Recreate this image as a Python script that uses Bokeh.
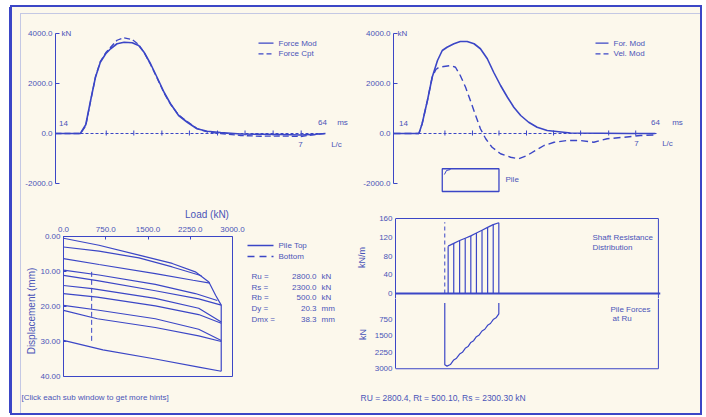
from bokeh.plotting import figure
from bokeh.layouts import column, row
from bokeh.models import Range1d, FixedTicker, Label, Spacer, Span
from bokeh.embed import file_html
from bokeh.resources import INLINE

# ---------------- data ----------------
# Top-left panel: force measured vs computed (time ms, force kN)
tl_time_ms = [14, 18.6, 19.6, 20.5, 21.4, 22.3, 23.3, 24.2, 25.4, 26.7, 28.2, 29.4, 30.4, 31.6,
              32.8, 34.1, 35.3, 36.8, 38.4, 40.2, 42.1, 44.6, 48.3, 52.0, 55.7, 59.4, 62.2, 64]
force_mod = [0, 0, 350, 1320, 2250, 2850, 3190, 3390, 3590, 3650, 3630, 3520, 3250, 2790,
             2250, 1650, 1190, 720, 450, 190, 90, 40, -20, -30, -40, -60, -30, 0]
force_cpt = [0, 0, 300, 1300, 2260, 2880, 3230, 3450, 3730, 3830, 3760, 3560, 3250, 2760,
             2220, 1620, 1170, 740, 480, 200, 60, 0, -80, -110, -100, -120, -40, 0]

# Top-right panel: modelled force and velocity
tr_force_time_ms = [14, 18.8, 19.4, 20.4, 21.3, 22.3, 23.2, 24.1, 25.4, 26.6, 27.9, 29.2, 30.4,
                    31.7, 32.9, 34.2, 35.5, 36.7, 38.0, 39.5, 41.1, 43.0, 47.4, 53.1, 58.7, 63.4]
for_mod = [0, 0, 390, 1320, 2250, 2920, 3320, 3450, 3590, 3680, 3680, 3590, 3390,
           2990, 2450, 1920, 1450, 1050, 720, 450, 250, 120, 20, 10, 0, 0]
tr_vel_time_ms = [14, 18.8, 19.4, 20.4, 21.3, 22.0, 22.6, 23.5, 24.8, 25.7, 26.6, 27.6, 28.5,
                  29.5, 30.4, 31.4, 32.6, 34.2, 36.1, 37.6, 39.2, 40.8, 42.4, 44.3, 46.8,
                  49.3, 51.8, 54.3, 57.5, 60.6, 63.4]
vel_mod = [0, 0, 390, 1320, 2250, 2560, 2650, 2680, 2720, 2650, 2320, 1850, 1320,
           720, 190, -210, -550, -810, -950, -1010, -880, -680, -480, -350, -280,
           -280, -350, -210, -150, -80, -60]

time_start_ms = 14
time_end_ms = 64
tl_lc_ticks_ms = [23.4, 28.5, 33.7, 38.8, 44.0, 49.1, 54.3, 59.5]
tr_lc_ticks_ms = [23.7, 28.9, 33.9, 39.1, 44.2, 49.3, 54.6, 59.7]
force_ticks = [-2000, 0, 2000, 4000]
force_tick_labels = ["-2000.0", "0.0", "2000.0", "4000.0"]

# pile sketch in the top-right panel (ms / kN frame of that panel)
pile_box_ms = [23.2, 33.9]
pile_box_kn = [-2320, -1410]
pile_mark_ms = [23.6, 24.0, 24.75]
pile_mark_kn = [-1640, -1480, -1440]

# Bottom-left panel: simulated static load test (load kN, displacement mm)
load_ticks = [0, 750, 1500, 2250, 3000]
load_tick_labels = ["0.0", "750.0", "1500.0", "2250.0", "3000.0"]
disp_ticks = [0, 10, 20, 30, 40]
disp_tick_labels = ["0.00", "10.00", "20.00", "30.00", "40.00"]
pile_top_loads = [
    [0, 630, 1340, 1930, 2340, 2580, 2700, 2800, 2800],
    [0, 630, 1340, 1930, 2450],
    [0, 630, 1630, 2300, 2600],
    [0, 630, 1630, 2340, 2730],
    [0, 600, 1630, 2400, 2800],
    [0, 510, 1630, 2400, 2800],
    [0, 600, 1630, 2400, 2800],
    [0, 600, 1630, 2400, 2800],
    [0, 600, 1630, 2400, 2800],
    [0, 700, 1630, 2400, 2800],
]
pile_top_disps = [
    [0.5, 2.5, 5.3, 7.7, 10.1, 13.0, 16.8, 19.6, 38.5],
    [3.0, 4.2, 6.1, 8.7, 11.2],
    [6.3, 8.0, 10.6, 12.5, 13.3],
    [9.6, 11.0, 13.7, 16.3, 18.3],
    [11.1, 12.6, 15.5, 17.8, 19.6],
    [14.0, 14.9, 17.7, 20.5, 24.4],
    [16.3, 17.3, 19.8, 22.3, 24.8],
    [19.7, 21.0, 23.5, 26.5, 29.7],
    [21.1, 23.5, 26.0, 28.4, 30.0],
    [29.7, 32.4, 35.0, 37.3, 38.5],
]
bottom_load = [500, 500]
bottom_disp = [10.1, 30.1]
result_names = ["Ru =", "Rs =", "Rb =", "Dy =", "Dmx ="]
result_values = ["2800.0", "2300.0", "500.0", "20.3", "38.3"]
result_units = ["kN", "kN", "kN", "mm", "mm"]

# Bottom-right panel: shaft resistance distribution and pile forces
node_depth_m = [1.2, 3.2, 5.3, 7.3, 9.3, 11.3, 13.3, 15.3, 17.3, 19.3]
skin_kn_per_m = [101, 107, 113, 118, 123, 129, 135, 141, 147, 151]
pile_top_depth_m = [0, 0]
pile_top_dash_kn_m = [0, 152]
force_depth_m = [0, 0, 0.8, 2.0, 3.2, 4.2, 5.3, 6.3, 7.3, 8.3, 9.3, 10.3, 11.3,
                 12.3, 13.3, 14.3, 15.3, 16.3, 17.3, 18.3, 19.3, 19.3]
pile_force_kn = [0, 2820, 2880, 2810, 2600, 2520, 2330, 2250, 2070, 1990, 1800, 1720,
                 1540, 1460, 1280, 1200, 1020, 940, 760, 680, 500, 0]
skin_ticks = [0, 40, 80, 120, 160]
force_dist_ticks = [750, 1500, 2250, 3000]
depth_axis_m = (-17.6, 76.3)

caption_left = "[Click each sub window to get more hints]"
caption_right = "RU =  2800.4,  Rt =  500.10,  Rs =  2300.30 kN"

# ---------------- style ----------------
BLUE = "#3b46c6"
TXT = "#4a54b8"
BG = "#fcf8ec"
FAINT = "#c4c8e4"
FONT = "Liberation Sans"


def mk(w, h, xr, yr, mbl, mbr, mbt, mbb, **kw):
    p = figure(width=w, height=h, x_range=Range1d(*xr), y_range=Range1d(*yr),
               output_backend="svg", toolbar_location=None,
               min_border_left=mbl, min_border_right=mbr, min_border_top=mbt, min_border_bottom=mbb,
               background_fill_color=BG, border_fill_color=BG,
               background_fill_alpha=0, border_fill_alpha=0, **kw)
    p.grid.visible = False
    p.outline_line_color = None
    return p


def style_axis(ax, ticks, labels=None, bounds=None, tick_in=4):
    ax.ticker = FixedTicker(ticks=ticks)
    if labels is not None:
        ax.major_label_overrides = {t: l for t, l in zip(ticks, labels)}
    ax.axis_line_color = BLUE
    ax.major_tick_line_color = BLUE
    ax.minor_tick_line_color = None
    ax.major_tick_in = tick_in
    ax.major_tick_out = 0
    ax.major_label_standoff = 3
    ax.major_label_text_font = FONT
    ax.major_label_text_font_size = "8px"
    ax.major_label_text_color = TXT
    if bounds is not None:
        ax.bounds = bounds


def axis_title(ax, txt, standoff, size="10px"):
    ax.axis_label = txt
    ax.axis_label_text_font = FONT
    ax.axis_label_text_font_size = size
    ax.axis_label_text_font_style = "normal"
    ax.axis_label_text_color = TXT
    ax.axis_label_standoff = standoff


def mapper(left, right, top, bottom, xr, yr):
    def f(px, py):
        x = xr[0] + (px - left) / (right - left) * (xr[1] - xr[0])
        y = yr[0] + (bottom - py) / (bottom - top) * (yr[1] - yr[0])
        return x, y
    return f


def lab(p, m, px, py, text, size="8px", align="left"):
    x, y = m(px, py)
    p.add_layout(Label(x=x, y=y, text=text, text_font=FONT, text_font_size=size,
                       text_color=TXT, text_align=align, text_baseline="middle"))


def seg_line(p, m, px0, px1, py, dash="solid"):
    x0, y = m(px0, py)
    x1, _ = m(px1, py)
    p.line([x0, x1], [y, y], line_color=BLUE, line_width=1.3, line_dash=dash)


# ---------------- top-left ----------------
tl_xr = (14, 14 + 293 / 5.4)
tl_yr = (-2520, 4320)
p1 = mk(338, 193, tl_xr, tl_yr, 43, 2, 18, 4, x_axis_location=None)
style_axis(p1.yaxis[0], force_ticks, force_tick_labels, bounds=(-2000, 4000))
m1 = mapper(55, 348, 25, 196, tl_xr, tl_yr)
p1.line([time_start_ms, time_end_ms], [0, 0], line_color=BLUE, line_width=1, line_dash="3 2")
p1.segment(x0=tl_lc_ticks_ms, y0=-80, x1=tl_lc_ticks_ms, y1=120, line_color=BLUE, line_width=1)
p1.line(tl_time_ms, force_mod, line_color=BLUE, line_width=1.6)
p1.line(tl_time_ms, force_cpt, line_color=BLUE, line_width=1.3, line_dash="6 3")
seg_line(p1, m1, 258, 273, 42.7)
seg_line(p1, m1, 258, 273, 53.3, "5 3")
lab(p1, m1, 278, 42.7, "Force Mod")
lab(p1, m1, 278, 53.3, "Force Cpt")
lab(p1, m1, 61, 33, "kN")
lab(p1, m1, 63, 122.7, str(time_start_ms), align="center")
lab(p1, m1, 322, 122, str(time_end_ms), align="center")
lab(p1, m1, 342, 122, "ms", align="center")
lab(p1, m1, 300, 144, "7", align="center")
lab(p1, m1, 336, 144, "L/c", align="center")

# ---------------- top-right ----------------
tr_xr = (14, 14 + 305 / 5.3)
tr_yr = (-2520, 4320)
p2 = mk(350, 193, tr_xr, tr_yr, 43, 2, 18, 4, x_axis_location=None)
style_axis(p2.yaxis[0], force_ticks, force_tick_labels, bounds=(-2000, 4000))
m2 = mapper(393, 698, 25, 196, tr_xr, tr_yr)
p2.line([time_start_ms, time_end_ms], [0, 0], line_color=BLUE, line_width=1, line_dash="3 2")
p2.segment(x0=tr_lc_ticks_ms, y0=-80, x1=tr_lc_ticks_ms, y1=120, line_color=BLUE, line_width=1)
p2.line(tr_force_time_ms, for_mod, line_color=BLUE, line_width=1.6)
p2.line(tr_vel_time_ms, vel_mod, line_color=BLUE, line_width=1.4, line_dash="7 4")
p2.quad(left=pile_box_ms[0], right=pile_box_ms[1], bottom=pile_box_kn[0], top=pile_box_kn[1],
        fill_color=None, line_color=BLUE, line_width=1.3)
p2.line(pile_mark_ms, pile_mark_kn, line_color=BLUE, line_width=1)
seg_line(p2, m2, 595, 608, 42.7)
seg_line(p2, m2, 595, 608, 53.3, "5 3")
lab(p2, m2, 613, 42.7, "For. Mod")
lab(p2, m2, 613, 53.3, "Vel. Mod")
lab(p2, m2, 397, 33, "kN")
lab(p2, m2, 403, 122.7, str(time_start_ms), align="center")
lab(p2, m2, 655, 122, str(time_end_ms), align="center")
lab(p2, m2, 677, 122, "ms", align="center")
lab(p2, m2, 636, 143.3, "7", align="center")
lab(p2, m2, 667, 143.3, "L/c", align="center")
lab(p2, m2, 505, 179, "Pile")

# ---------------- bottom-left ----------------
bl_xr = (0, 3000 * 287 / 169)
bl_yr = (40 + 9 / 3.5, 0)
p3 = mk(338, 185, bl_xr, bl_yr, 51, 0, 36, 0, x_axis_location="above")
style_axis(p3.xaxis[0], load_ticks, load_tick_labels, bounds=(0, 3000), tick_in=3)
style_axis(p3.yaxis[0], disp_ticks, disp_tick_labels, bounds=(0, 40), tick_in=3)
p3.xaxis[0].major_label_standoff = 5
p3.yaxis[0].major_label_standoff = 3
axis_title(p3.xaxis[0], "Load (kN)", 4)
axis_title(p3.yaxis[0], "Displacement (mm)", 0)
m3 = mapper(63, 350, 236, 385, bl_xr, bl_yr)
p3.quad(left=load_ticks[0], right=load_ticks[-1], top=disp_ticks[0], bottom=disp_ticks[-1],
        fill_color=None, line_color=BLUE, line_width=1)
p3.multi_line(pile_top_loads, pile_top_disps, line_color=BLUE, line_width=1.2)
p3.line(bottom_load, bottom_disp, line_color=BLUE, line_width=1, line_dash="5 3")
seg_line(p3, m3, 247, 273, 245)
seg_line(p3, m3, 247, 273, 256, "7 5")
lab(p3, m3, 278, 245, "Pile Top")
lab(p3, m3, 278, 256, "Bottom")
for i, (nm, vl, un) in enumerate(zip(result_names, result_values, result_units)):
    yy = 276 + i * 10.7
    lab(p3, m3, 251, yy, nm)
    lab(p3, m3, 316, yy, vl, align="right")
    lab(p3, m3, 321, yy, un)

# ---------------- bottom-right (two stacked halves) ----------------
br_xr = (depth_axis_m[0], depth_axis_m[0] + 265 / 2.8)
up_yr = (-5 / 0.46875, 160 + 2 / 0.46875)
p4 = mk(350, 98, br_xr, up_yr, 45, 40, 16, 0, x_axis_location=None)
style_axis(p4.yaxis[0], skin_ticks, tick_in=0, bounds=(up_yr[0], skin_ticks[-1]))
axis_title(p4.yaxis[0], "kN/m", 9, "9px")
m4 = mapper(395, 660, 216, 298, br_xr, up_yr)
p4.line([depth_axis_m[0], depth_axis_m[1], depth_axis_m[1]],
        [skin_ticks[-1], skin_ticks[-1], up_yr[0]], line_color=BLUE, line_width=1)
p4.add_layout(Span(location=0, dimension="width", line_color=BLUE, line_width=2))
p4.segment(x0=node_depth_m, y0=0, x1=node_depth_m, y1=skin_kn_per_m, line_color=BLUE, line_width=1.2)
p4.line(node_depth_m, skin_kn_per_m, line_color=BLUE, line_width=1.2)
p4.line(pile_top_depth_m, pile_top_dash_kn_m, line_color=BLUE, line_width=1, line_dash="4 3")
lab(p4, m4, 592, 237, "Shaft Resistance")
lab(p4, m4, 592, 247, "Distribution")

lo_yr = (3000 + 2 * 40, -5 * 40)
p5 = mk(350, 87, br_xr, lo_yr, 45, 40, 0, 15, x_axis_location=None)
style_axis(p5.yaxis[0], force_dist_ticks, tick_in=0, bounds=(lo_yr[1], force_dist_ticks[-1]))
axis_title(p5.yaxis[0], "kN", 4, "9px")
m5 = mapper(395, 660, 298, 370, br_xr, lo_yr)
p5.line([depth_axis_m[0], depth_axis_m[1], depth_axis_m[1]],
        [force_dist_ticks[-1], force_dist_ticks[-1], lo_yr[1]], line_color=BLUE, line_width=1)
p5.line(force_depth_m, pile_force_kn, line_color=BLUE, line_width=1.2)
lab(p5, m5, 610, 309, "Pile Forces")
lab(p5, m5, 612, 318, "at Ru")

# ---------------- caption strip ----------------
strip_xr = (12, 700)
strip_yr = (413, 385)
p6 = mk(688, 28, strip_xr, strip_yr, 0, 0, 0, 0, x_axis_location=None, y_axis_location=None)
m6 = mapper(12, 700, 385, 413, strip_xr, strip_yr)
lab(p6, m6, 21, 397, caption_left)
lab(p6, m6, 360, 397, caption_right, size="8.5px")

content = column(row(p1, p2), row(p3, column(p4, p5)), p6,
                 styles={"outline": "2px solid " + BLUE,
                         "background-color": BG,
                         "box-shadow": ("-3px 0 0 0 " + BLUE + ", inset 8px 6px 0 0 " + BG
                                        + ", inset 9px 7px 0 0 " + FAINT)})
root = column(Spacer(width=10, height=7), row(Spacer(width=12, height=10), content))

open("out.html", "w").write(file_html(root, INLINE))
